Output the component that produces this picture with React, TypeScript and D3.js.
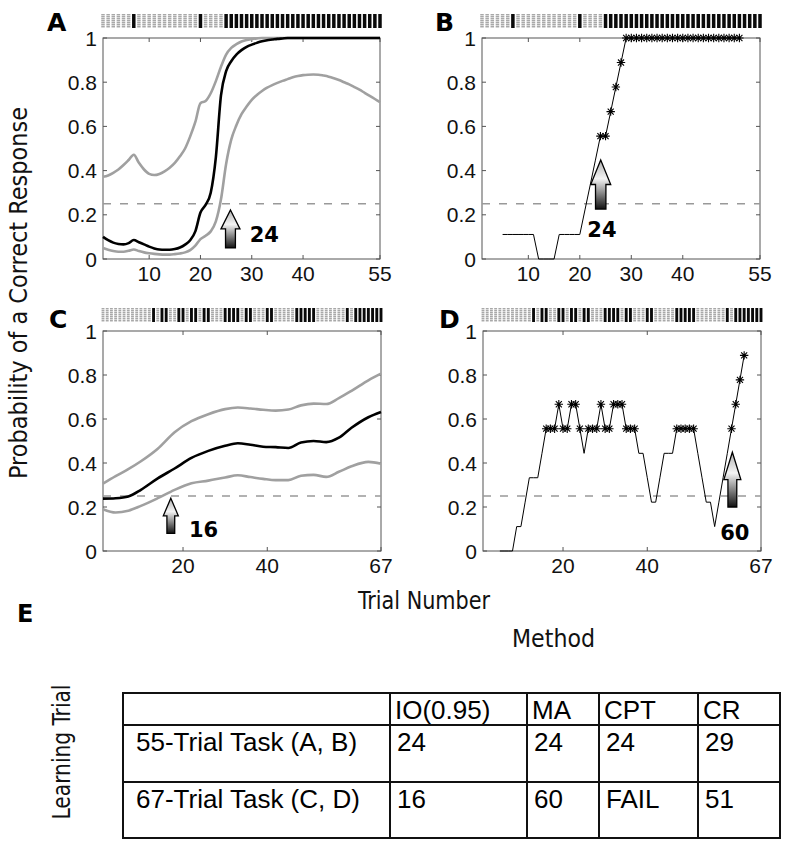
import React from "react";
import * as d3 from "d3";

// ---------------- data ----------------
const responsesAB = [
  0, 0, 0, 0, 0, 0, 1, 0, 0, 0,
  0, 0, 0, 0, 0, 0, 0, 0, 0, 1,
  0, 0, 0, 0, 1, 1, 1, 1, 1, 1,
  1, 1, 1, 1, 1, 1, 1, 1, 1, 1,
  1, 1, 1, 1, 1, 1, 1, 1, 1, 1,
  1, 1, 1, 1, 1,
];
const responsesCD = [
  0, 0, 0, 0, 0, 0, 0, 0, 0, 0,
  0, 0, 1, 0, 1, 1, 0, 0, 1, 1,
  0, 1, 1, 0, 1, 1, 0, 0, 0, 1,
  1, 1, 1, 0, 1, 1, 0, 0, 0, 1,
  1, 0, 0, 0, 0, 0, 1, 1, 1, 1,
  1, 0, 0, 0, 0, 0, 0, 0, 1, 0,
  1, 1, 1, 1, 1, 1, 1,
];

// Panel A: IO(0.95) mean and bounds, one value per trial 1..55
const ioMeanA = [
  0.1, 0.085, 0.074, 0.068, 0.066, 0.072, 0.086, 0.076, 0.066, 0.056,
  0.048, 0.043, 0.042, 0.042, 0.045, 0.052, 0.065, 0.085, 0.125, 0.21,
  0.245, 0.3, 0.46, 0.74, 0.85, 0.895, 0.925, 0.945, 0.96, 0.97,
  0.978, 0.985, 0.99, 0.993, 0.996, 0.998, 1, 1, 1, 1,
  1, 1, 1, 1, 1, 1, 1, 1, 1, 1,
  1, 1, 1, 1, 1,
];
const ioUpperA = [
  0.372, 0.378, 0.39, 0.405, 0.425, 0.448, 0.472, 0.435, 0.405, 0.385,
  0.38, 0.385, 0.397, 0.413, 0.435, 0.465, 0.5, 0.555, 0.62, 0.705,
  0.715, 0.75, 0.805, 0.87, 0.925, 0.955, 0.972, 0.984, 0.991, 0.995,
  0.998, 1, 1, 1, 1, 1, 1, 1, 1, 1,
  1, 1, 1, 1, 1, 1, 1, 1, 1, 1,
  1, 1, 1, 1, 1,
];
const ioLowerA = [
  0.05, 0.042, 0.036, 0.033, 0.033, 0.037, 0.043, 0.036, 0.03, 0.026,
  0.023, 0.021, 0.02, 0.02, 0.022, 0.025, 0.03, 0.04, 0.06, 0.09,
  0.105, 0.125, 0.17, 0.27, 0.43, 0.54, 0.605, 0.655, 0.69, 0.72,
  0.742, 0.76, 0.775, 0.787, 0.797, 0.806, 0.814, 0.822, 0.828, 0.832,
  0.834, 0.835, 0.834, 0.83, 0.825, 0.818, 0.81, 0.8, 0.79, 0.778,
  0.766, 0.752, 0.738, 0.724, 0.71,
];

// Panel C: IO(0.95) mean and bounds at selected trials
const curveTrialsC = [1, 4, 7, 10, 14, 18, 22, 26, 30, 33, 36, 39, 42, 45, 48, 51, 54, 57, 60, 64, 67];
const ioMeanC = [0.238, 0.24, 0.248, 0.278, 0.33, 0.375, 0.423, 0.455, 0.478, 0.49, 0.483, 0.474, 0.472, 0.468, 0.493, 0.5, 0.495, 0.515, 0.56, 0.608, 0.632];
const ioUpperC = [0.306, 0.34, 0.372, 0.408, 0.465, 0.54, 0.59, 0.622, 0.645, 0.652, 0.648, 0.642, 0.638, 0.643, 0.662, 0.67, 0.668, 0.695, 0.728, 0.776, 0.806];
const ioLowerC = [0.19, 0.175, 0.183, 0.205, 0.24, 0.278, 0.308, 0.32, 0.334, 0.344, 0.336, 0.328, 0.322, 0.322, 0.342, 0.346, 0.337, 0.36, 0.385, 0.405, 0.397];

// Panel B: moving average, trials 5..51
const maFirstTrialB = 5;
const maB = [
  0.111, 0.111, 0.111, 0.111, 0.111, 0.111, 0.111, 0, 0, 0,
  0, 0.111, 0.111, 0.111, 0.111, 0.111, 0.222, 0.333, 0.444, 0.556,
  0.556, 0.667, 0.778, 0.889, 1, 1, 1, 1, 1, 1,
  1, 1, 1, 1, 1, 1, 1, 1, 1, 1,
  1, 1, 1, 1, 1, 1, 1,
];
// Panel D: moving average, trials 5..63
const maFirstTrialD = 5;
const maD = [
  0, 0, 0, 0, 0.111, 0.111, 0.222, 0.333, 0.333, 0.333,
  0.444, 0.556, 0.556, 0.556, 0.667, 0.556, 0.556, 0.667, 0.667, 0.556,
  0.444, 0.556, 0.556, 0.556, 0.667, 0.556, 0.556, 0.667, 0.667, 0.667,
  0.556, 0.556, 0.556, 0.444, 0.444, 0.333, 0.222, 0.222, 0.333, 0.444,
  0.444, 0.444, 0.556, 0.556, 0.556, 0.556, 0.556, 0.444, 0.333, 0.222,
  0.222, 0.111, 0.222, 0.333, 0.444, 0.556, 0.667, 0.778, 0.889,
];
const significantLevel = 0.55;

const yTicks = [0, 0.2, 0.4, 0.6, 0.8, 1];
const yTickLabels = ["0", "0.2", "0.4", "0.6", "0.8", "1"];
const xTicksAB = [10, 20, 30, 40, 55];
const xTicksCD = [20, 40, 67];
const chanceLevel = 0.25;

const learningLabels = ["24", "24", "16", "60"];

const tableMethods = ["IO(0.95)", "MA", "CPT", "CR"];
const tableTasks = ["55-Trial Task (A, B)", "67-Trial Task (C, D)"];
const tableValues = [
  ["24", "24", "24", "29"],
  ["16", "60", "FAIL", "51"],
];

// ---------------- layout ----------------
const panels = [
  { key: "A", left: 103, right: 380, top: 38, bottom: 259, n: 55, xTicks: xTicksAB, rTop: 14, rBot: 28, responses: responsesAB, lx: 47, ly: 31,
    arrow: { x: 25.85, tip: 0.222, base: 0.05, w: 19, lx: 29.6, ly: 0.077, anchor: "start" } },
  { key: "B", left: 482, right: 760, top: 38, bottom: 259, n: 55, xTicks: xTicksAB, rTop: 14, rBot: 28, responses: responsesAB, lx: 435, ly: 31,
    arrow: { x: 24.06, tip: 0.448, base: 0.226, w: 20, lx: 24.3, ly: 0.1, anchor: "middle" } },
  { key: "C", left: 103, right: 381, top: 331, bottom: 551, n: 67, xTicks: xTicksCD, rTop: 308, rBot: 322, responses: responsesCD, lx: 49, ly: 328,
    arrow: { x: 17.1, tip: 0.24, base: 0.08, w: 15, lx: 21.4, ly: 0.062, anchor: "start" } },
  { key: "D", left: 483, right: 761, top: 331, bottom: 551, n: 67, xTicks: xTicksCD, rTop: 308, rBot: 322, responses: responsesCD, lx: 439, ly: 328,
    arrow: { x: 60.2, tip: 0.449, base: 0.2, w: 17, lx: 57.3, ly: 0.05, anchor: "start" } },
];

const tableX = [123, 390, 527, 599, 698, 780];
const tableY = [693, 725, 782, 838];

const SANS = "'Liberation Sans', Arial, Helvetica, sans-serif";
const NARROW = "'Liberation Sans Narrow', 'DejaVu Sans Condensed', 'Liberation Sans', sans-serif";
const BOLD = "'DejaVu Sans', 'Liberation Sans', sans-serif";

function starPath(x: number, y: number, r: number) {
  const d = r * 0.72;
  return `M${x - r},${y}h${2 * r}M${x},${y - r}v${2 * r}M${x - d},${y - d}l${2 * d},${2 * d}M${x - d},${y + d}l${2 * d},${-2 * d}`;
}

function arrowPath(cx: number, yTip: number, yBase: number, w: number) {
  const h = (yBase - yTip) * 0.5;
  const sw = w * 0.52;
  return `M${cx},${yTip}L${cx + w / 2},${yTip + h}L${cx + sw / 2},${yTip + h}L${cx + sw / 2},${yBase}L${cx - sw / 2},${yBase}L${cx - sw / 2},${yTip + h}L${cx - w / 2},${yTip + h}Z`;
}

function Panel({ p, idx }: { p: any; idx: number }) {
  const x = d3.scaleLinear().domain([1, p.n]).range([p.left, p.right]);
  const y = d3.scaleLinear().domain([0, 1]).range([p.bottom, p.top]);
  const trials = d3.range(1, p.n + 1);
  const spacing = (p.right - p.left) / (p.n - 1);
  const bw = spacing * 0.68;
  const line = d3.line<[number, number]>().x((d) => x(d[0])).y((d) => y(d[1])).curve(d3.curveMonotoneX);
  const lin = d3.line<[number, number]>().x((d) => x(d[0])).y((d) => y(d[1]));

  let content: React.ReactNode = null;
  if (p.key === "A" || p.key === "C") {
    const tx = p.key === "A" ? trials : curveTrialsC;
    const m = p.key === "A" ? ioMeanA : ioMeanC;
    const u = p.key === "A" ? ioUpperA : ioUpperC;
    const l = p.key === "A" ? ioLowerA : ioLowerC;
    const pts = (arr: number[]) => tx.map((t, i) => [t, arr[i]] as [number, number]);
    content = (
      <g fill="none">
        <path d={line(pts(u)) || ""} stroke="#a0a0a0" strokeWidth={2.6} />
        <path d={line(pts(l)) || ""} stroke="#a0a0a0" strokeWidth={2.6} />
        <path d={line(pts(m)) || ""} stroke="#000" strokeWidth={2.6} />
      </g>
    );
  } else {
    const vals = p.key === "B" ? maB : maD;
    const first = p.key === "B" ? maFirstTrialB : maFirstTrialD;
    const pts = vals.map((v, i) => [first + i, v] as [number, number]);
    content = (
      <g>
        <path d={lin(pts) || ""} fill="none" stroke="#000" strokeWidth={1} />
        {pts
          .filter((d) => d[1] >= significantLevel)
          .map((d, i) => (
            <path key={i} d={starPath(x(d[0]), y(d[1]), 4.2)} stroke="#000" strokeWidth={1.1} fill="none" />
          ))}
      </g>
    );
  }

  const a = p.arrow;
  const ax = x(a.x);
  return (
    <g>
      {trials.map((t, i) => (
        <rect
          key={t}
          x={x(t) - bw / 2}
          y={p.rTop}
          width={bw}
          height={p.rBot - p.rTop}
          fill={p.responses[i] ? "#0a0a0a" : "url(#grayHatch)"}
        />
      ))}
      <rect x={p.left} y={p.top} width={p.right - p.left} height={p.bottom - p.top} fill="none" stroke="#555" strokeWidth={1} />
      {p.xTicks.map((t: number) => (
        <g key={"xt" + t}>
          <line x1={x(t)} x2={x(t)} y1={p.bottom} y2={p.bottom - 4} stroke="#555" />
          <line x1={x(t)} x2={x(t)} y1={p.top} y2={p.top + 4} stroke="#555" />
          <text x={x(t)} y={p.bottom + 22} textAnchor="middle" fontFamily={SANS} fontSize={21} fill="#111">
            {t}
          </text>
        </g>
      ))}
      {yTicks.map((v, i) => (
        <g key={"yt" + v}>
          <line x1={p.left} x2={p.left + 4} y1={y(v)} y2={y(v)} stroke="#555" />
          <line x1={p.right} x2={p.right - 4} y1={y(v)} y2={y(v)} stroke="#555" />
          <text x={p.left - 6} y={y(v) + 7.5} textAnchor="end" fontFamily={SANS} fontSize={21} fill="#111">
            {yTickLabels[i]}
          </text>
        </g>
      ))}
      <line x1={p.left} x2={p.right} y1={y(chanceLevel)} y2={y(chanceLevel)} stroke="#999" strokeWidth={1.4} strokeDasharray="8 9" />
      {content}
      <path d={arrowPath(ax, y(a.tip), y(a.base), a.w)} fill="url(#arrowGrad)" stroke="#000" strokeWidth={1.3} />
      <text x={x(a.lx)} y={y(a.ly)} textAnchor={a.anchor} fontFamily={BOLD} fontWeight="bold" fontSize={21} fill="#000">
        {learningLabels[idx]}
      </text>
      <text x={p.lx} y={p.ly} fontFamily={BOLD} fontWeight="bold" fontSize={25} fill="#000">
        {p.key}
      </text>
    </g>
  );
}

export default function App() {
  return (
    <div style={{ position: "absolute", left: 0, top: 0 }}>
      <svg width={788} height={846} style={{ display: "block", background: "#fff" }}>
        <defs>
          <pattern id="grayHatch" width={2} height={2} patternUnits="userSpaceOnUse">
            <rect width={2} height={2} fill="#d6d6d6" />
            <rect width={2} height={1} fill="#a8a8a8" />
          </pattern>
          <linearGradient id="arrowGrad" x1="0" y1="0" x2="0" y2="1">
            <stop offset="0%" stopColor="#b0b0b0" />
            <stop offset="38%" stopColor="#f4f4f4" />
            <stop offset="100%" stopColor="#111" />
          </linearGradient>
        </defs>

        {panels.map((p, i) => (
          <Panel key={p.key} p={p} idx={i} />
        ))}

        <text
          transform="translate(27,293) rotate(-90)"
          textAnchor="middle"
          fontFamily={NARROW}
          fontSize={24}
          textLength={372}
          lengthAdjust="spacingAndGlyphs"
          fill="#111"
        >
          Probability of a Correct Response
        </text>
        <text x={358} y={609} fontFamily={NARROW} fontSize={24} textLength={132} lengthAdjust="spacingAndGlyphs" fill="#111">
          Trial Number
        </text>

        <text x={17} y={622} fontFamily={BOLD} fontWeight="bold" fontSize={24} fill="#000">
          E
        </text>
        <text x={512} y={647} fontFamily={NARROW} fontSize={24} textLength={83} lengthAdjust="spacingAndGlyphs" fill="#111">
          Method
        </text>
        <text
          transform="translate(70,752) rotate(-90)"
          textAnchor="middle"
          fontFamily={NARROW}
          fontSize={24}
          textLength={135}
          lengthAdjust="spacingAndGlyphs"
          fill="#111"
        >
          Learning Trial
        </text>

        <g stroke="#111" strokeWidth={2}>
          <rect x={tableX[0]} y={tableY[0]} width={tableX[5] - tableX[0]} height={tableY[3] - tableY[0]} fill="none" />
          {tableY.slice(1, 3).map((yy) => (
            <line key={"h" + yy} x1={tableX[0]} x2={tableX[5]} y1={yy} y2={yy} />
          ))}
          {tableX.slice(1, 5).map((xx) => (
            <line key={"v" + xx} x1={xx} x2={xx} y1={tableY[0]} y2={tableY[3]} />
          ))}
        </g>
        <g fontFamily={SANS} fontSize={26} fill="#000">
          {tableMethods.map((m, j) => (
            <text key={m} x={tableX[j + 1] + 5} y={tableY[0] + 26}>
              {m}
            </text>
          ))}
          {tableTasks.map((t, i) => (
            <text key={t} x={tableX[0] + 13} y={tableY[i + 1] + 26}>
              {t}
            </text>
          ))}
          {tableValues.map((row, i) =>
            row.map((v, j) => (
              <text key={i + "-" + j} x={tableX[j + 1] + 7} y={tableY[i + 1] + 26}>
                {v}
              </text>
            ))
          )}
        </g>
      </svg>
    </div>
  );
}
